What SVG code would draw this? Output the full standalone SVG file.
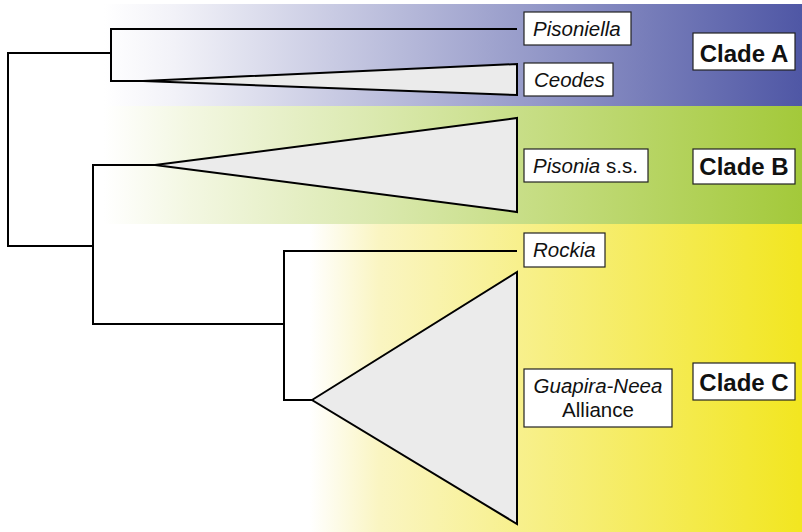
<svg xmlns="http://www.w3.org/2000/svg" width="802" height="532" viewBox="0 0 802 532">
  <defs>
    <linearGradient id="gradA" gradientUnits="userSpaceOnUse" x1="104" y1="0" x2="802" y2="0">
      <stop offset="0" stop-color="#ffffff"/>
      <stop offset="0.1" stop-color="#f2f2f8"/>
      <stop offset="1" stop-color="#4f57a5"/>
    </linearGradient>
    <linearGradient id="gradB" gradientUnits="userSpaceOnUse" x1="104" y1="0" x2="802" y2="0">
      <stop offset="0" stop-color="#ffffff"/>
      <stop offset="0.12" stop-color="#f3f7e2"/>
      <stop offset="1" stop-color="#a3c93a"/>
    </linearGradient>
    <linearGradient id="gradC" gradientUnits="userSpaceOnUse" x1="310" y1="0" x2="802" y2="0">
      <stop offset="0" stop-color="#ffffff"/>
      <stop offset="0.14" stop-color="#faf5c2"/>
      <stop offset="1" stop-color="#f2e620"/>
    </linearGradient>
    <style>
      .branch { fill: none; stroke: #000; stroke-width: 2; stroke-linejoin: miter; }
      .clade { fill: #ebebeb; stroke: #000; stroke-width: 2; stroke-linejoin: miter; }
      .box { fill: #fff; stroke: #222; stroke-width: 1.2; }
      .taxon { font-family: "Liberation Sans", Arial, sans-serif; font-size: 20.5px; font-style: italic; fill: #111; }
      .plain { font-style: normal; }
      .cladelabel { font-family: "Liberation Sans", Arial, sans-serif; font-size: 24px; font-weight: bold; fill: #111; text-anchor: middle; }
    </style>
  </defs>

  <rect width="802" height="532" fill="#fff"/>

  <!-- clade colour bands -->
  <g id="bands">
    <rect x="104" y="4" width="698" height="102" fill="url(#gradA)"/>
    <rect x="104" y="106" width="698" height="118" fill="url(#gradB)"/>
    <rect x="310" y="224" width="492" height="308" fill="url(#gradC)"/>
  </g>

  <!-- tree branches -->
  <g id="connectors">
    <polyline class="branch" points="111,53 8,53 8,246 93,246"/>
    <polyline class="branch" points="517,29 111,29 111,81 143,81"/>
    <polyline class="branch" points="155,165 93,165 93,324 284,324"/>
    <polyline class="branch" points="517,251 284,251 284,400 312,400"/>
  </g>

  <!-- collapsed clades -->
  <g id="ceodes-clade">
    <polygon class="clade" points="143,81 517,64 517,95"/>
  </g>
  <g id="pisonia-clade">
    <polygon class="clade" points="155,165 517,118 517,212"/>
  </g>
  <g id="guapira-clade">
    <polygon class="clade" points="312,400 517,272 517,524"/>
  </g>

  <!-- taxon labels -->
  <g id="pisoniella">
    <rect class="box" x="524" y="12" width="107" height="33"/>
    <text class="taxon" x="533" y="36">Pisoniella</text>
  </g>
  <g id="ceodes">
    <rect class="box" x="524" y="63" width="89" height="33"/>
    <text class="taxon" x="534" y="87">Ceodes</text>
  </g>
  <g id="pisonia">
    <rect class="box" x="524" y="149" width="124" height="33"/>
    <text class="taxon" x="533" y="173">Pisonia<tspan class="plain"> s.s.</tspan></text>
  </g>
  <g id="rockia">
    <rect class="box" x="524" y="233" width="81" height="34"/>
    <text class="taxon" x="533" y="257">Rockia</text>
  </g>
  <g id="guapira-neea">
    <rect class="box" x="524" y="369" width="148" height="58"/>
    <text class="taxon" x="598" y="393" text-anchor="middle">Guapira-Neea</text>
    <text class="taxon plain" x="598" y="417" text-anchor="middle">Alliance</text>
  </g>

  <!-- clade labels -->
  <g id="clade-a">
    <rect class="box" x="693" y="33" width="102" height="37"/>
    <text class="cladelabel" x="744" y="62">Clade A</text>
  </g>
  <g id="clade-b">
    <rect class="box" x="693" y="149" width="102" height="35"/>
    <text class="cladelabel" x="744" y="175">Clade B</text>
  </g>
  <g id="clade-c">
    <rect class="box" x="693" y="363" width="102" height="37"/>
    <text class="cladelabel" x="744" y="391">Clade C</text>
  </g>
</svg>
